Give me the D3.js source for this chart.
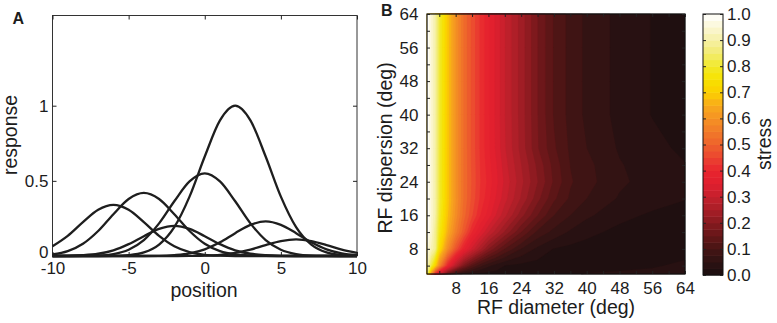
<html>
<head>
<meta charset="utf-8">
<script src="https://d3js.org/d3.v7.min.js"></script>
<style>
  body { margin: 0; background: #fff; }
  text { font-family: "Liberation Sans", Arial, sans-serif; fill: #1c1c1c; }
  .tick text { font-size: 17px; }
  .tick line { stroke: #222; }
  .axis-label { font-size: 19.5px; }
  .panel-letter { font-size: 16px; font-weight: bold; }
</style>
</head>
<body>
<svg id="fig" width="777" height="323"></svg>
<script>
// ---- panel A data: response of each tuning curve at each position
const positions = [-10, -9, -8, -7, -6, -5, -4, -3, -2, -1, 0, 1, 2, 3, 4, 5, 6, 7, 8, 9, 10];
const curveResponses = [
  [.065, .134, .225, .307, .34, .307, .225, .134, .065, .026, .008, .002, 0, 0, 0, 0, 0, 0, 0, 0, 0],
  [.010, .032, .081, .166, .278, .379, .42, .379, .278, .166, .081, .032, .010, .003, .001, 0, 0, 0, 0, 0, 0],
  [0, .001, .005, .015, .038, .079, .132, .180, .2, .180, .132, .079, .038, .015, .005, .001, 0, 0, 0, 0, 0],
  [0, 0, .001, .003, .013, .042, .106, .217, .364, .496, .55, .496, .364, .217, .106, .042, .013, .003, .001, 0, 0],
  [0, 0, 0, 0, .001, .006, .024, .076, .192, .395, .662, .902, 1, .902, .662, .395, .192, .076, .024, .006, .001],
  [0, 0, 0, 0, 0, 0, 0, .001, .006, .017, .044, .091, .152, .207, .23, .207, .152, .091, .044, .017, .006],
  [0, 0, 0, 0, 0, 0, 0, 0, 0, .001, .003, .008, .021, .043, .073, .099, .11, .099, .073, .043, .021]
];
const xTicksA = [-10, -5, 0, 5, 10];
const yTicksA = [0, 0.5, 1];

// ---- panel B data: stress on a diameter x dispersion grid
const diameters = [1, 2, 3, 4, 6, 8, 10, 12, 14, 16, 18, 20, 24, 28, 32, 36, 40, 48, 56, 64];
const dispersions = [2, 4, 8, 12, 16, 20, 24, 28, 32, 40, 48, 56, 64];
const stress = [
  [0.85, 0.60, 0.40, 0.30, 0.15, 0.075, 0.038, 0.022, 0.018, 0.015, 0.015, 0.015, 0.016, 0.018, 0.020, 0.023, 0.026, 0.029, 0.032, 0.035],
  [0.92, 0.82, 0.71, 0.58, 0.40, 0.275, 0.183, 0.125, 0.083, 0.056, 0.039, 0.025, 0.018, 0.015, 0.014, 0.015, 0.016, 0.018, 0.022, 0.030],
  [0.96, 0.92, 0.88, 0.735, 0.59, 0.475, 0.383, 0.317, 0.257, 0.20, 0.16, 0.125, 0.075, 0.044, 0.024, 0.018, 0.015, 0.012, 0.012, 0.015],
  [1.0, 0.944, 0.88, 0.78, 0.656, 0.56, 0.48, 0.40, 0.35, 0.30, 0.26, 0.22, 0.15, 0.093, 0.067, 0.046, 0.032, 0.018, 0.013, 0.011],
  [1.0, 0.95, 0.90, 0.80, 0.68, 0.59, 0.51, 0.453, 0.40, 0.364, 0.32, 0.282, 0.209, 0.15, 0.10, 0.075, 0.055, 0.0325, 0.021, 0.016],
  [1.0, 0.95, 0.90, 0.81, 0.69, 0.60, 0.52, 0.467, 0.42, 0.382, 0.345, 0.309, 0.246, 0.183, 0.13, 0.095, 0.075, 0.047, 0.036, 0.026],
  [1.0, 0.95, 0.90, 0.81, 0.69, 0.60, 0.52, 0.47, 0.425, 0.391, 0.355, 0.318, 0.257, 0.20, 0.145, 0.103, 0.084, 0.055, 0.039, 0.028],
  [1.0, 0.95, 0.90, 0.81, 0.69, 0.60, 0.52, 0.468, 0.423, 0.385, 0.35, 0.31, 0.25, 0.193, 0.14, 0.099, 0.082, 0.052, 0.037, 0.026],
  [1.0, 0.95, 0.90, 0.81, 0.69, 0.60, 0.52, 0.467, 0.42, 0.38, 0.342, 0.302, 0.24, 0.177, 0.129, 0.095, 0.075, 0.047, 0.032, 0.020],
  [1.0, 0.95, 0.90, 0.81, 0.69, 0.60, 0.52, 0.467, 0.42, 0.38, 0.34, 0.30, 0.238, 0.175, 0.122, 0.091, 0.069, 0.042, 0.024, 0.012],
  [1.0, 0.95, 0.90, 0.81, 0.69, 0.60, 0.52, 0.467, 0.42, 0.38, 0.34, 0.30, 0.238, 0.175, 0.122, 0.091, 0.069, 0.042, 0.024, 0.012],
  [1.0, 0.95, 0.90, 0.81, 0.69, 0.60, 0.52, 0.467, 0.42, 0.38, 0.34, 0.30, 0.238, 0.175, 0.122, 0.091, 0.069, 0.042, 0.024, 0.012],
  [1.0, 0.95, 0.90, 0.81, 0.69, 0.60, 0.52, 0.467, 0.42, 0.38, 0.34, 0.30, 0.238, 0.175, 0.122, 0.091, 0.069, 0.042, 0.024, 0.012]
];
const bTicks = [4, 8, 12, 16, 20, 24, 28, 32, 36, 40, 44, 48, 52, 56, 60, 64];
const bLabels = [8, 16, 24, 32, 40, 48, 56, 64];
const levels = [0, .025, .05, .075, .1, .125, .15, .175, .2, .225, .25, .275, .3, .325, .35, .375, .4, .425, .45, .475,
  .5, .525, .55, .575, .6, .625, .65, .675, .7, .725, .75, .775, .8, .825, .85, .875, .9, .925, .95, .975];
const cbarTicks = [0, 0.1, 0.2, 0.3, 0.4, 0.5, 0.6, 0.7, 0.8, 0.9, 1.0];

// colormap
const cmapStops = [0, .05, .1, .15, .2, .25, .3, .35, .4, .45, .5, .55, .6, .65, .7, .75, .8, .85, .9, .95, 1];
const cmapColors = ["#1a0e0f", "#2c1213", "#461414", "#651618", "#861a1f", "#a81e27", "#c4202c", "#e01f2e", "#e8242e",
  "#eb4430", "#ee622c", "#f17a29", "#f59224", "#f8aa1c", "#fcd000", "#f7e200", "#f2e92a", "#f2eb70", "#f6f0a6", "#fbf7d6", "#ffffff"];

const svg = d3.select("#fig");
const cmap = d3.scaleLinear().domain(cmapStops).range(cmapColors).interpolate(d3.interpolateRgb);
const bandColor = t => cmap(Math.min(1, t + 0.0125));

// ================= panel A =================
const xA = d3.scaleLinear().domain([-10, 10]).range([52.5, 357]);
const yA = d3.scaleLinear().domain([0, 1.6]).range([256, 15.5]);

let panelA = svg.append("g");

panelA.append("rect")
  .attr("x", 52.5).attr("y", 15.5)
  .attr("width", 357 - 52.5).attr("height", 256 - 15.5)
  .attr("fill", "none").attr("stroke", "#333").attr("stroke-width", 1);

const lineA = d3.line()
  .x((d, i) => xA(positions[i]))
  .y(d => yA(d))
  .curve(d3.curveMonotoneX);

curveResponses.forEach(r => {
  panelA.append("path")
    .attr("d", lineA(r))
    .attr("fill", "none")
    .attr("stroke", "#1e1e1e")
    .attr("stroke-width", 2.3);
});

panelA.append("g").attr("transform", "translate(0,256)")
  .call(d3.axisBottom(xA).tickValues(xTicksA).tickSizeInner(-4).tickSizeOuter(0).tickPadding(6).tickFormat(d => String(d)))
  .call(g => g.select(".domain").remove());
panelA.append("g").attr("transform", "translate(0,15.5)")
  .call(d3.axisTop(xA).tickValues(xTicksA).tickSizeInner(-4).tickSizeOuter(0).tickFormat(""))
  .call(g => g.select(".domain").remove());
panelA.append("g").attr("transform", "translate(52.5,0)")
  .call(d3.axisLeft(yA).tickValues(yTicksA).tickSizeInner(-4).tickSizeOuter(0).tickPadding(4).tickFormat(d => String(d)))
  .call(g => g.select(".domain").remove())
  .call(g => g.selectAll(".tick text").attr("y", d => d === 0 ? -4 : 0));
panelA.append("g").attr("transform", "translate(357,0)")
  .call(d3.axisRight(yA).tickValues(yTicksA).tickSizeInner(-4).tickSizeOuter(0).tickFormat(""))
  .call(g => g.select(".domain").remove());

panelA.append("text").attr("class", "axis-label")
  .attr("x", 204).attr("y", 297).attr("text-anchor", "middle").text("position");
panelA.append("text").attr("class", "axis-label")
  .attr("transform", "translate(17,135) rotate(-90)").attr("text-anchor", "middle").text("response");
panelA.append("text").attr("class", "panel-letter")
  .attr("x", 12.5).attr("y", 23.5).text("A");

// ================= panel B =================
const xB = d3.scaleLinear().domain([1, 64]).range([427, 685]);
const yB = d3.scaleLinear().domain([2, 64]).range([274, 14]);

let panelB = svg.append("g");

// contour grid coordinates -> data coordinates
const colX = d3.scaleLinear().domain(diameters.map((d, i) => i + 0.5)).range(diameters).clamp(true);
const rowY = d3.scaleLinear().domain(dispersions.map((d, i) => i + 0.5)).range(dispersions).clamp(true);
const gridProj = d3.geoTransform({
  point: function (px, py) { this.stream.point(xB(colX(px)), yB(rowY(py))); }
});
const contourPath = d3.geoPath(gridProj);

const contours = d3.contours()
  .size([diameters.length, dispersions.length])
  .thresholds(levels)(stress.flat());

panelB.selectAll("path.band")
  .data(contours)
  .join("path")
  .attr("class", "band")
  .attr("d", contourPath)
  .attr("fill", d => bandColor(d.value))
  .attr("stroke", d => bandColor(d.value))
  .attr("stroke-width", 0.3);

panelB.append("rect")
  .attr("x", 427).attr("y", 14)
  .attr("width", 685 - 427).attr("height", 274 - 14)
  .attr("fill", "none").attr("stroke", "#111").attr("stroke-width", 1.2);

const bFmt = d => bLabels.includes(d) ? d : "";
panelB.append("g").attr("transform", "translate(0,274)")
  .call(d3.axisBottom(xB).tickValues(bTicks).tickSizeInner(-3).tickSizeOuter(0).tickPadding(7.5).tickFormat(bFmt))
  .call(g => g.select(".domain").remove());
panelB.append("g").attr("transform", "translate(0,14)")
  .call(d3.axisTop(xB).tickValues(bTicks).tickSizeInner(-3).tickSizeOuter(0).tickFormat(""))
  .call(g => g.select(".domain").remove());
panelB.append("g").attr("transform", "translate(427,0)")
  .call(d3.axisLeft(yB).tickValues(bTicks).tickSizeInner(-3).tickSizeOuter(0).tickPadding(8.5).tickFormat(bFmt))
  .call(g => g.select(".domain").remove());
panelB.append("g").attr("transform", "translate(685,0)")
  .call(d3.axisRight(yB).tickValues(bTicks).tickSizeInner(-3).tickSizeOuter(0).tickFormat(""))
  .call(g => g.select(".domain").remove());

panelB.selectAll(".tick line").attr("stroke", "#111");

panelB.append("text").attr("class", "axis-label")
  .attr("x", 556).attr("y", 314).attr("text-anchor", "middle").text("RF diameter (deg)");
panelB.append("text").attr("class", "axis-label")
  .attr("transform", "translate(392,148) rotate(-90)").attr("text-anchor", "middle").text("RF dispersion (deg)");
panelB.append("text").attr("class", "panel-letter")
  .attr("x", 381).attr("y", 15.5).text("B");

// ================= colour bar =================
const yC = d3.scaleLinear().domain([0, 1]).range([275, 14]);
let cbar = svg.append("g");

cbar.selectAll("rect.cb")
  .data(levels)
  .join("rect")
  .attr("class", "cb")
  .attr("x", 703).attr("width", 20)
  .attr("y", d => yC(Math.min(1, d + 0.025)))
  .attr("height", d => yC(d) - yC(Math.min(1, d + 0.025)) + 0.5)
  .attr("fill", d => bandColor(d));

cbar.append("rect")
  .attr("x", 703).attr("y", 14).attr("width", 20).attr("height", 275 - 14)
  .attr("fill", "none").attr("stroke", "#111").attr("stroke-width", 1);

cbar.append("g").attr("transform", "translate(723,0)")
  .call(d3.axisRight(yC).tickValues(cbarTicks).tickSizeInner(-3).tickSizeOuter(0).tickPadding(4).tickFormat(d3.format(".1f")))
  .call(g => g.select(".domain").remove());
cbar.append("g").attr("transform", "translate(703,0)")
  .call(d3.axisLeft(yC).tickValues(cbarTicks).tickSizeInner(-3).tickSizeOuter(0).tickFormat(""))
  .call(g => g.select(".domain").remove());

cbar.append("text").attr("class", "axis-label")
  .attr("transform", "translate(771,144) rotate(-90)").attr("text-anchor", "middle").text("stress");
</script>
</body>
</html>
